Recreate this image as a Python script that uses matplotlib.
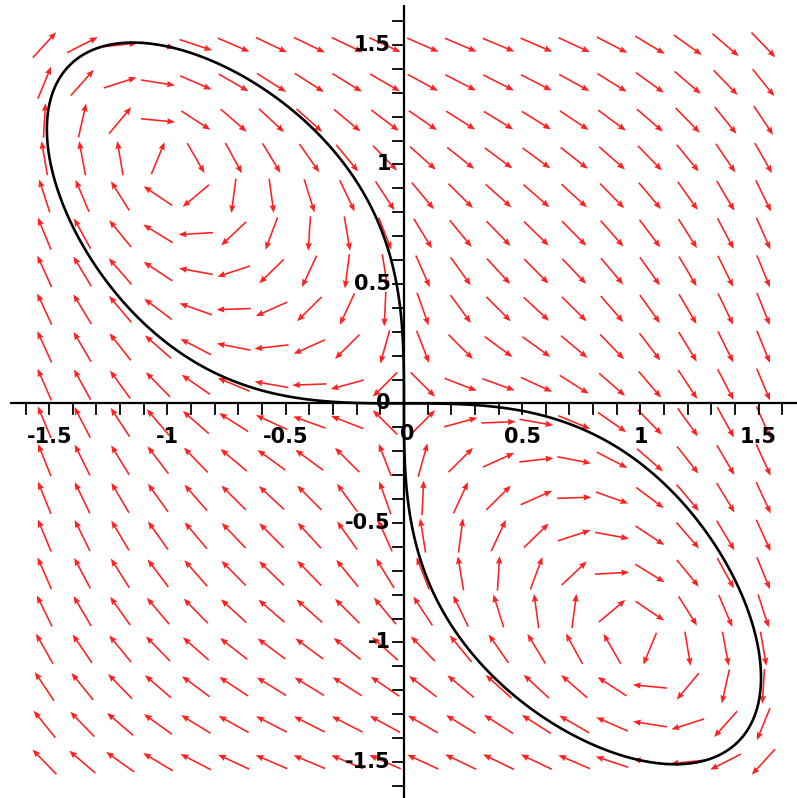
import numpy as np
import matplotlib
matplotlib.use("Agg")
import matplotlib.pyplot as plt

# System: x' = y^3 + x,  y' = -(x^3 + y)   (Hamiltonian H = x^4 + y^4 + 4xy)
# separatrix curve: H(x, y) = 0
field_x = np.linspace(-1.52, 1.52, 20)
field_y = np.linspace(-1.50, 1.50, 20)
curve_level = [0.0]
xlim = (-1.708, 1.662)
ylim = (-1.651, 1.688)
xtick_labels = ["-1.5", "-1", "-0.5", "0.5", "1", "1.5"]
xtick_vals = [-1.5, -1.0, -0.5, 0.5, 1.0, 1.5]
ytick_labels = ["1.5", "1", "0.5", "0", "-0.5", "-1", "-1.5"]
ytick_vals = [1.5, 1.0, 0.5, 0.0, -0.5, -1.0, -1.5]


def dxdt(x, y):
    return y ** 3 + x


def dydt(x, y):
    return -(x ** 3 + y)


def H(x, y):
    return x ** 4 + y ** 4 + 4 * x * y


fig = plt.figure(figsize=(7.97, 7.98), dpi=100)
ax = fig.add_axes([0, 0, 1, 1])
ax.set_xlim(*xlim)
ax.set_ylim(*ylim)
ax.axis("off")

# direction field
X, Y = np.meshgrid(field_x, field_y)
U = dxdt(X, Y)
V = dydt(X, Y)
N = np.hypot(U, V)
N[N == 0] = 1
L = 0.145
ax.quiver(X, Y, U / N * L, V / N * L, angles="xy", scale_units="xy", scale=1,
          pivot="mid", color="#ff2020", units="dots", width=1.6,
          headwidth=4, headlength=5, headaxislength=4.5, zorder=2)

# separatrix curve
gx = np.linspace(-1.7, 1.7, 1201)
gy = np.linspace(-1.7, 1.7, 1201)
GX, GY = np.meshgrid(gx, gy)
ax.contour(GX, GY, H(GX, GY), levels=curve_level, colors="black",
           linewidths=1.9, zorder=3)

# axes lines
ax.plot([-1.665, xlim[1]], [0, 0], color="black", lw=1.6, zorder=4,
        solid_capstyle="butt")
ax.plot([0, 0], [ylim[0], 1.665], color="black", lw=1.6, zorder=4,
        solid_capstyle="butt")

# ticks every 0.1
tl_x = 11 / 239.0
tl_y = 11 / 236.5
for t in np.round(np.arange(-1.6, 1.61, 0.1), 2):
    ax.plot([t, t], [0, -tl_x], color="black", lw=1.3, zorder=4)
    ax.plot([0, -tl_y], [t, t], color="black", lw=1.3, zorder=4)

font = dict(family="DejaVu Sans", fontsize=15, fontweight="bold", color="black")
for v, s in zip(xtick_vals, xtick_labels):
    ax.text(v, -0.14, s, ha="center", va="center", zorder=5, **font)
ax.text(0.012, -0.13, "0", ha="center", va="center", zorder=5, **font)
for v, s in zip(ytick_vals, ytick_labels):
    ax.text(-0.055, v, s, ha="right", va="center", zorder=5, **font)

fig.savefig("out.png", dpi=100, facecolor="white")
